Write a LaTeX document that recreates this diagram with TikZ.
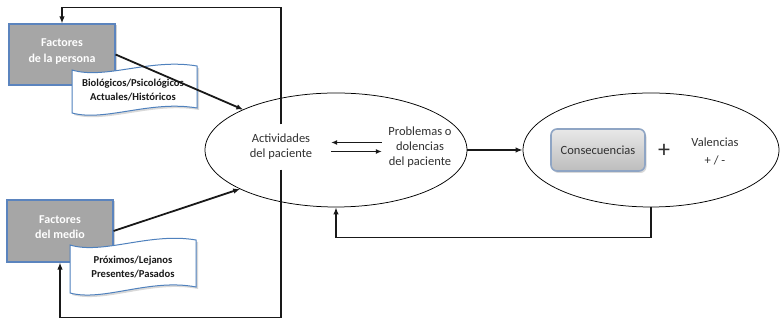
\documentclass[tikz,border=0pt]{standalone}
\usepackage{fontspec}
\setmainfont{Carlito}
\usetikzlibrary{arrows.meta,calc,shapes.geometric,shadows}
\definecolor{boxgray}{HTML}{A6A6A6}
\definecolor{boxblue}{HTML}{5B84BE}
\definecolor{docblue}{HTML}{4F81BD}
\definecolor{consborder}{HTML}{8FA5C4}
\definecolor{txtgray}{HTML}{303030}
\begin{document}
\begin{tikzpicture}[x=1pt,y=1pt,
  conn/.style={line width=1.8pt, draw=black!90, -{Latex[length=7pt,width=5.5pt]}},
  thinarr/.style={line width=1.4pt, draw=black!90, -{Latex[length=6pt,width=5pt]}},
  factbox/.style={draw=boxblue, line width=1.1pt, fill=boxgray, rectangle,
    minimum width=106pt, minimum height=61pt, inner sep=0pt,
    drop shadow={shadow xshift=1.5pt, shadow yshift=-1.5pt, opacity=0.35}},
  facttxt/.style={text=white, font=\fontsize{12}{15.5}\selectfont\bfseries, align=center, inner sep=0pt},
  docshape/.style={draw=docblue, line width=1pt, fill=white,
    drop shadow={shadow xshift=2pt, shadow yshift=-2pt, opacity=0.3}},
  doctxt/.style={text=black!90, font=\fontsize{10.6}{14}\selectfont\bfseries, align=center, inner sep=0pt},
  ell/.style={draw=black, line width=0.75pt, ellipse, inner sep=0pt},
  plain/.style={text=txtgray, font=\fontsize{12.5}{15}\selectfont, align=center, inner sep=0pt},
  consbox/.style={draw=consborder, line width=1.6pt, rounded corners=6pt,
    top color=gray!18, bottom color=gray!52, minimum width=94pt, minimum height=42pt,
    inner sep=0pt, text=txtgray, font=\fontsize{12.5}{15}\selectfont,
    drop shadow={shadow xshift=1.5pt, shadow yshift=-2pt, opacity=0.3}}
]
\useasboundingbox (0,0) rectangle (782,320);

% ellipses
\node[ell, minimum width=262pt, minimum height=114pt] (e1) at (336,170) {};
\node[ell, minimum width=256pt, minimum height=114pt] (e2) at (651,170) {};

% text inside ellipse 1
\node[plain, minimum width=100pt, minimum height=45pt] (act) at (281,173) {Actividades\\del paciente};
\node[plain, minimum width=76pt] (prob) at (420,173) {Problemas o\\dolencias\\del paciente};

% inside ellipse 2
\node[consbox] (cons) at (598,170) {Consecuencias};
\node[text=txtgray, font=\fontsize{24}{24}\selectfont, inner sep=0pt] (plus) at (664,169) {+};
\node[text=txtgray, font=\fontsize{12.5}{18}\selectfont, align=center, inner sep=0pt] (val) at (715,169) {Valencias\\+ / -};

% factor boxes
\node[factbox] (fp) at (62,265.5) {};
\node[facttxt] (fpt) at (62,268.5) {Factores\\de la persona};
\node[factbox, minimum height=62pt] (fm) at (60,89) {};
\node[facttxt] (fmt) at (60,93) {Factores\\del medio};

% wave documents
\path[docshape] (72,250) .. controls (105,240) and (150,262) .. (197,254)
  -- (197,212) .. controls (150,220) and (105,198) .. (72,207) -- cycle;
\node[doctxt] (d1) at (133,230) {Biológicos/Psicológicos\\Actuales/Históricos};
\path[docshape] (70,75) .. controls (103,65) and (150,88) .. (196,80)
  -- (196,33) .. controls (150,42) and (103,18) .. (70,27) -- cycle;
\node[doctxt] (d2) at (133,52.5) {Próximos/Lejanos\\Presentes/Pasados};

% arrows from factors to ellipse 1
\coordinate (e1a) at ($(e1.center)+(135:131pt and 57pt)$);
\coordinate (e1b) at ($(e1.center)+(223:131pt and 57pt)$);
\draw[conn] (fp.east) -- (e1a);
\draw[conn] (fm.east) -- (e1b);

% feedback loops from activities to factors
\draw[conn] (act.north) |- ([yshift=16pt]fp.north) -- (fp.north);
\draw[conn] (act.south) |- ([yshift=-55pt]fm.south) -- (fm.south);

% double arrows
\draw[thinarr] ([yshift=4.5pt]prob.west) -- ([yshift=4.5pt]act.east);
\draw[thinarr] ([yshift=-4.5pt]act.east) -- ([yshift=-4.5pt]prob.west);

% ellipse 1 to ellipse 2
\draw[conn, line width=1.5pt] (e1.east) -- (e2.west);

% feedback from ellipse 2 to ellipse 1
\draw[conn, line width=1.5pt] (e2.south) -- ++(0,-30) -| (e1.south);
\end{tikzpicture}
\end{document}
